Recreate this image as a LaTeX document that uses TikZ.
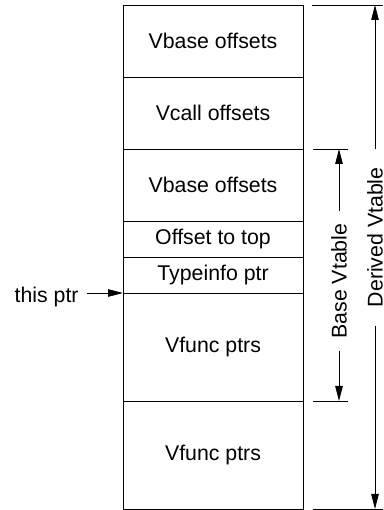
\documentclass[tikz,border=0pt]{standalone}
\usepackage{fontspec}
\setmainfont{Liberation Sans}
\usepackage{tikz}
\usetikzlibrary{arrows.meta, positioning, calc}

\tikzset{
    cell/.style={
        rectangle,
        draw=black,
        line width=0.9pt,
        minimum width=180pt,
        inner sep=0pt,
        outer sep=0pt,
        font=\fontsize{21.3}{25}\selectfont,
    },
    lbl/.style={
        inner sep=0pt,
        font=\fontsize{21.3}{25}\selectfont,
    },
}

\begin{document}
\begin{tikzpicture}[x=1pt, y=1pt, line width=0.9pt, >={Triangle[length=15pt,width=7.5pt]}]
      \useasboundingbox (0,0) rectangle (383,510);

      % the table, top to bottom
      \node [cell, minimum height=72pt, anchor=north] (vb1) at (213,505) {Vbase offsets};
      \node [cell, minimum height=72pt, below=0pt of vb1] (vc) {Vcall offsets};
      \node [cell, minimum height=72pt, below=0pt of vc] (vb2) {Vbase offsets};
      \node [cell, minimum height=36pt, below=0pt of vb2] (off) {Offset to top};
      \node [cell, minimum height=36pt, below=0pt of off] (ti) {Typeinfo ptr};
      \node [cell, minimum height=108pt, below=0pt of ti] (vf1) {Vfunc ptrs};
      \node [cell, minimum height=108pt, below=0pt of vf1] (vf2) {Vfunc ptrs};

      % this pointer
      \node [lbl, anchor=base east, inner xsep=8pt] (thisptr) at ($(vf1.north west)+(-36,-10)$) {this ptr};
      \draw[->] (thisptr.east |- vf1.north west) -- (vf1.north west);

      % derived vtable extent
      \coordinate (dtop) at ($(vb1.north east)+(72,0)$);
      \coordinate (dbot) at ($(vf2.south east)+(72,0)$);
      \draw ($(vb1.north east)+(9,0)$) -- ++(71,0);
      \draw ($(vf2.south east)+(10,0)$) -- ++(70,0);
      \node [lbl, rotate=90, inner xsep=18pt, xshift=-1.5pt] (dlab) at ($(dtop)!0.458!(dbot)$) {Derived Vtable};
      \path[->] (dlab.east -| dtop) edge (dtop);
      \path[->] (dlab.west -| dbot) edge (dbot);

      % base vtable extent
      \coordinate (btop) at ($(vb2.north east)+(36,0)$);
      \coordinate (bbot) at ($(vf1.south east)+(36,0)$);
      \draw ($(vb2.north east)+(10,0)$) -- ++(35,0);
      \draw ($(vf1.south east)+(10,0)$) -- ++(35,0);
      \node [lbl, rotate=90, inner xsep=12pt] (blab) at ($(btop)!0.524!(bbot)$) {Base Vtable};
      \path[->] (blab.east) edge (btop);
      \path[->] (blab.west) edge (bbot);

    \end{tikzpicture}
\end{document}
